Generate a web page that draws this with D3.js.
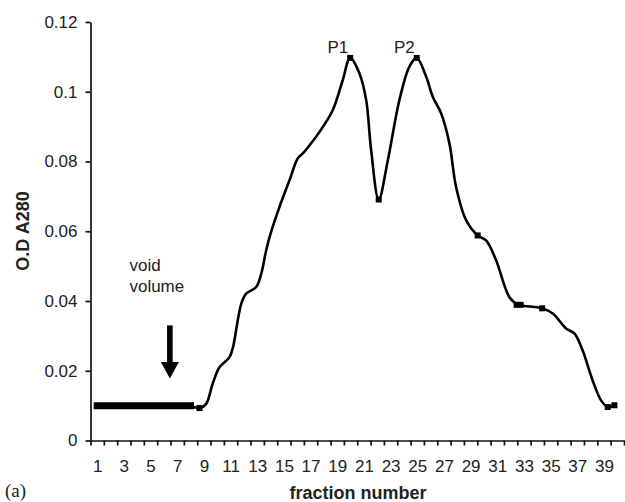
<!DOCTYPE html>
<html>
<head>
<meta charset="utf-8">
<script src="https://cdn.jsdelivr.net/npm/d3@7"></script>
<style>
  body { margin: 0; background: #fff; }
  text { font-family: "Liberation Sans", Arial, sans-serif; fill: #222; }
</style>
</head>
<body>
<svg id="chart" width="625" height="502"></svg>
<script>
// fractions on the category axis
var fractions = d3.range(1, 41);
var fractionLabels = fractions.filter(function(d){ return d % 2 === 1; });
var odTicks = [0, 0.02, 0.04, 0.06, 0.08, 0.1, 0.12];

// void volume, fractions 1-8
var voidFrac = [1, 2, 3, 4, 5, 6, 7, 8];
var voidOD = [0.01, 0.01, 0.01, 0.01, 0.01, 0.01, 0.01, 0.01];

// elution profile
var curveFrac = [8, 8.67, 9.17, 9.66, 10.17, 10.92, 11.17, 11.8, 12.17, 12.92, 13.3, 13.67, 14, 14.67,
  15.42, 16.04, 16.42, 17, 17.67, 18.66, 19.41, 19.97, 20.66, 21.17, 21.54, 22.11, 22.79, 23.66,
  24.41, 24.96, 25.67, 26.16, 26.79, 27.41, 27.91, 28.66, 29.53, 30.16, 30.91, 31.91, 32.6, 33.5,
  34.36, 35.16, 36.16, 36.78, 37.4, 38.15, 38.78, 39.28, 39.78];
var curveOD = [0.0100, 0.0093, 0.0105, 0.0163, 0.0210, 0.0239, 0.0265, 0.0392, 0.0421, 0.0440, 0.0478, 0.0545, 0.0593, 0.0670,
  0.0746, 0.0809, 0.0823, 0.0850, 0.0885, 0.0947, 0.1033, 0.1097, 0.1053, 0.0976, 0.0833, 0.0691, 0.0803, 0.0976,
  0.1072, 0.1097, 0.1043, 0.0986, 0.0938, 0.0852, 0.0727, 0.0632, 0.0588, 0.0574, 0.0517, 0.0411, 0.0389, 0.0384,
  0.0379, 0.0364, 0.0321, 0.0307, 0.0258, 0.0172, 0.0115, 0.0096, 0.0101];

// visible point markers
var markFrac = [8.67, 19.97, 22.11, 24.96, 29.53, 32.45, 32.75, 34.36, 39.28, 39.78];
var markOD = [0.0093, 0.1097, 0.0691, 0.1097, 0.0588, 0.0389, 0.0389, 0.0379, 0.0096, 0.0101];

var peakNames = ["P1", "P2"];
var peakFrac = [19.97, 24.96];
var peakOD = [0.1097, 0.1097];

var svg = d3.select("#chart");

var x = d3.scaleLinear().domain([0.5, 40.5]).range([90.5, 624]);
var y = d3.scaleLinear().domain([0, 0.12]).range([440.5, 22]);

// y axis
var yAxis = svg.append("g")
    .attr("transform", "translate(90.5,0)")
    .call(d3.axisLeft(y).tickValues(odTicks).tickSizeInner(5).tickSizeOuter(0).tickPadding(8)
      .tickFormat(function(d){ return String(+d.toFixed(2)); }));
yAxis.selectAll("text").style("font-size", "17px");

// x axis: ticks between categories, labels on odd fractions
var xAxis = svg.append("g")
    .attr("transform", "translate(0,440.5)")
    .call(d3.axisBottom(x).tickValues(d3.range(0.5, 40.6, 1)).tickFormat("").tickSizeInner(5).tickSizeOuter(0));
var xLab = svg.append("g")
    .attr("transform", "translate(0,440.5)")
    .call(d3.axisBottom(x).tickValues(fractionLabels).tickSize(0).tickPadding(19));
xLab.select(".domain").remove();
xLab.selectAll("text").style("font-size", "17px");

svg.selectAll(".domain, .tick line").attr("stroke", "#111").attr("stroke-width", 1.7);

// void volume bar
svg.append("path")
    .datum(voidFrac.map(function(d, i){ return [d, voidOD[i]]; }))
    .attr("d", d3.line().x(function(d){ return x(d[0]); }).y(function(d){ return y(d[1]); }))
    .attr("fill", "none")
    .attr("stroke", "#000")
    .attr("stroke-width", 7)
    .attr("stroke-linecap", "square");

// profile
svg.append("path")
    .datum(curveFrac.map(function(d, i){ return [d, curveOD[i]]; }))
    .attr("d", d3.line().curve(d3.curveCatmullRom.alpha(0.5))
      .x(function(d){ return x(d[0]); }).y(function(d){ return y(d[1]); }))
    .attr("fill", "none")
    .attr("stroke", "#000")
    .attr("stroke-width", 2.6)
    .attr("stroke-linejoin", "round");

svg.selectAll(".mark")
    .data(markFrac)
    .enter().append("rect")
    .attr("class", "mark")
    .attr("x", function(d){ return x(d) - 3; })
    .attr("y", function(d, i){ return y(markOD[i]) - 3; })
    .attr("width", 6)
    .attr("height", 6)
    .attr("fill", "#000");

// peak labels
svg.selectAll(".peak")
    .data(peakNames)
    .enter().append("text")
    .attr("class", "peak")
    .attr("x", function(d, i){ return x(peakFrac[i]) - 2; })
    .attr("y", function(d, i){ return y(peakOD[i]) - 5; })
    .attr("text-anchor", "end")
    .style("font-size", "17px")
    .text(function(d){ return d; });

// void volume note and arrow
svg.append("text").attr("x", x(3.42)).attr("y", y(0.0486)).style("font-size", "17px").text("void");
svg.append("text").attr("x", x(3.42)).attr("y", y(0.0426)).style("font-size", "17px").text("volume");

var ax = x(6.45);
svg.append("rect")
    .attr("x", ax - 2.8)
    .attr("y", y(0.033))
    .attr("width", 5.6)
    .attr("height", y(0.022) - y(0.033))
    .attr("fill", "#000");
svg.append("path")
    .attr("d", "M" + (ax - 9) + "," + y(0.0225) + "L" + (ax + 9) + "," + y(0.0225) + "L" + ax + "," + y(0.0178) + "Z")
    .attr("fill", "#000");

// titles
svg.append("text")
    .attr("transform", "translate(29,231) rotate(-90)")
    .attr("text-anchor", "middle")
    .style("font-size", "18px")
    .style("font-weight", "bold")
    .text("O.D A280");

svg.append("text")
    .attr("x", 358)
    .attr("y", 499)
    .attr("text-anchor", "middle")
    .style("font-size", "18px")
    .style("font-weight", "bold")
    .text("fraction number");

svg.append("text")
    .attr("x", 5)
    .attr("y", 497)
    .style("font-family", "'Liberation Serif', 'Times New Roman', serif")
    .style("font-size", "19px")
    .text("(a)");
</script>
</body>
</html>
